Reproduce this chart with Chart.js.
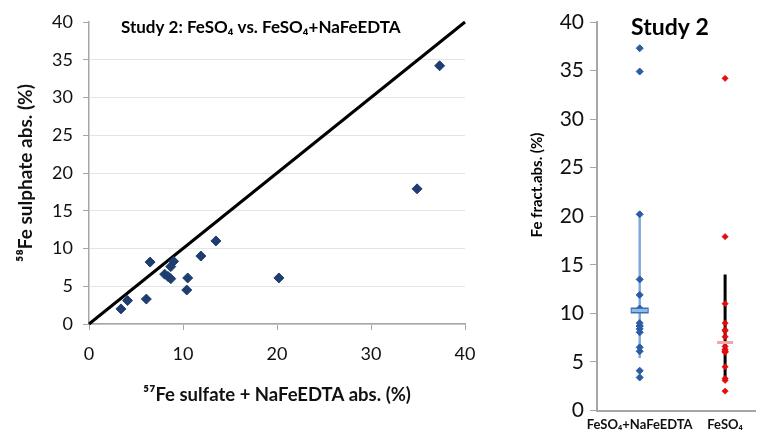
<!DOCTYPE html>
<html>
<head>
<meta charset="utf-8">
<script src="https://cdn.jsdelivr.net/npm/chart.js@4.4.1/dist/chart.umd.min.js"></script>
<style>
  body { margin: 0; background: #fff; }
  #wrap { position: relative; width: 770px; height: 430px; overflow: hidden; }
  #left { position: absolute; left: 0; top: 0; }
  #right { position: absolute; left: 480px; top: 0; }
</style>
</head>
<body>
<div id="wrap">
  <canvas id="left" width="480" height="430"></canvas>
  <canvas id="right" width="290" height="430"></canvas>
</div>
<script>
// fractional absorption per subject, study 2
var edtaAbs     = [3.4, 4.1, 6.1, 6.5, 8.05, 8.4, 8.7, 8.7, 9.0, 10.4, 10.5, 11.9, 13.5, 20.2, 34.9, 37.3];
var sulphateAbs = [2.0, 3.1, 3.3, 8.2, 6.6, 6.3, 6.0, 7.6, 8.3, 4.5, 6.1, 9.0, 11.0, 6.1, 17.9, 34.2];
var identityEnds = [0, 40];

// right panel groups
var groupLabels = ['FeSO\u2084+NaFeEDTA', 'FeSO\u2084'];
var groupMeans  = [10.3, 7.0];
var groupLow    = [5.4, 3.3];
var groupHigh   = [19.9, 14.0];

var FONT = "Lato, 'Noto Sans', sans-serif";
Chart.defaults.font.family = FONT;
Chart.defaults.color = '#111';

// draws free text (titles sitting inside the plot area)
var panelText = {
    id: 'panelText',
    afterDraw: function(chart, args, opts) {
        var ctx = chart.ctx;
        (opts.items || []).forEach(function(it) {
            ctx.save();
            ctx.font = it.font;
            ctx.fillStyle = '#000';
            ctx.textAlign = it.align || 'center';
            ctx.textBaseline = 'middle';
            ctx.translate(it.x, it.y);
            if (it.rotation) ctx.rotate(it.rotation);
            ctx.fillText(it.text, 0, 0);
            ctx.restore();
        });
    }
};

var axisGray = '#a6a6a6';

new Chart(document.getElementById('left'), {
    type: 'scatter',
    data: {
        datasets: [{
            data: edtaAbs.map(function(x, i) { return {x: x, y: sulphateAbs[i]}; }),
            pointStyle: 'rectRot',
            pointRadius: 5,
            backgroundColor: '#1f3e70',
            borderColor: '#1f3e70',
            borderWidth: 1
        }, {
            data: identityEnds.map(function(v) { return {x: v, y: v}; }),
            showLine: true,
            borderColor: '#000',
            borderWidth: 3,
            pointRadius: 0,
            clip: false
        }]
    },
    options: {
        responsive: false,
        animation: false,
        layout: { padding: { top: 22, right: 15, bottom: 20, left: 0 } },
        plugins: {
            legend: { display: false },
            tooltip: { enabled: false },
            panelText: {
                items: [{ text: 'Study 2: FeSO\u2084 vs. FeSO\u2084+NaFeEDTA', x: 121, y: 28, align: 'left', font: 'bold 17px ' + FONT }]
            }
        },
        scales: {
            x: {
                min: 0, max: 40,
                ticks: { stepSize: 10, font: { size: 18 }, padding: 13 },
                grid: { drawOnChartArea: false, tickLength: 6, tickColor: axisGray },
                border: { color: axisGray, width: 1.5 },
                title: { display: true, text: '\u2075\u2077Fe sulfate + NaFeEDTA abs. (%)', font: { size: 18.5, weight: 'bold' }, padding: { top: 4, bottom: 4 } },
                afterFit: function(s) { s.height = 86; s.paddingLeft = 0; s.paddingRight = 0; }
            },
            y: {
                min: 0, max: 40,
                ticks: { stepSize: 5, font: { size: 18 }, padding: 10 },
                grid: {
                    color: function(c) { return c.tick && c.tick.value === 40 ? 'rgba(0,0,0,0)' : '#e4e4e4'; },
                    tickLength: 6, tickColor: axisGray
                },
                border: { color: axisGray, width: 1.5 },
                title: { display: true, text: '\u2075\u2078Fe sulphate abs. (%)', font: { size: 19, weight: 'bold' }, padding: { top: 14 } },
                afterFit: function(s) { s.width = 89; }
            }
        }
    },
    plugins: [panelText]
});

function column(vals, g) {
    return vals.map(function(v) { return {x: g, y: v}; });
}

new Chart(document.getElementById('right'), {
    type: 'scatter',
    data: {
        datasets: [{
            // mean markers
            data: [{x: 0, y: groupMeans[0]}],
            pointStyle: 'line', pointRadius: 8, borderWidth: 3,
            borderColor: '#8dbbe8', order: 0
        }, {
            data: [{x: 0, y: groupMeans[0]}],
            pointStyle: 'line', pointRadius: 9, borderWidth: 6,
            borderColor: '#3d6fb5', order: 1
        }, {
            data: [{x: 1, y: groupMeans[1]}],
            pointStyle: 'line', pointRadius: 8, borderWidth: 3,
            borderColor: '#f2a5a5', order: 0
        }, {
            data: column(edtaAbs, 0),
            pointStyle: 'rectRot', pointRadius: 3.5,
            backgroundColor: '#2b5ca6', borderColor: '#2b5ca6', borderWidth: 1, order: 2
        }, {
            data: column(sulphateAbs, 1),
            pointStyle: 'rectRot', pointRadius: 3.2,
            backgroundColor: '#e30b0b', borderColor: '#e30b0b', borderWidth: 0.5, order: 2
        }, {
            data: [{x: 0, y: groupLow[0]}, {x: 0, y: groupHigh[0]}],
            showLine: true, borderColor: '#7eaadb', borderWidth: 2.5, pointRadius: 0, order: 3
        }, {
            data: [{x: 1, y: groupLow[1]}, {x: 1, y: groupHigh[1]}],
            showLine: true, borderColor: '#000', borderWidth: 3, pointRadius: 0, order: 3
        }]
    },
    options: {
        responsive: false,
        animation: false,
        layout: { padding: { top: 22, right: 0, bottom: 0, left: 0 } },
        plugins: {
            legend: { display: false },
            tooltip: { enabled: false },
            panelText: {
                items: [
                    { text: 'Study 2', x: 190, y: 28, font: 'bold 23px ' + FONT },
                    { text: 'Fe fract.abs. (%)', x: 57, y: 185, rotation: -Math.PI / 2, font: 'bold 15px ' + FONT }
                ]
            }
        },
        scales: {
            x: {
                min: -0.5, max: 1.35,
                afterBuildTicks: function(s) { s.ticks = [{value: 0}, {value: 1}]; },
                ticks: {
                    autoSkip: false, maxRotation: 0, minRotation: 0, padding: 7,
                    font: { size: 13, weight: 'bold' },
                    callback: function(v) { return groupLabels[v]; }
                },
                grid: { drawOnChartArea: false, drawTicks: false },
                border: { color: axisGray, width: 2 },
                afterFit: function(s) { s.height = 19.5; }
            },
            y: {
                min: 0, max: 40,
                ticks: { stepSize: 5, font: { size: 21 }, padding: 6 },
                grid: { drawOnChartArea: false, tickLength: 7, tickColor: axisGray },
                border: { color: axisGray, width: 2 },
                afterFit: function(s) { s.width = 117; }
            }
        }
    },
    plugins: [panelText]
});
</script>
</body>
</html>
